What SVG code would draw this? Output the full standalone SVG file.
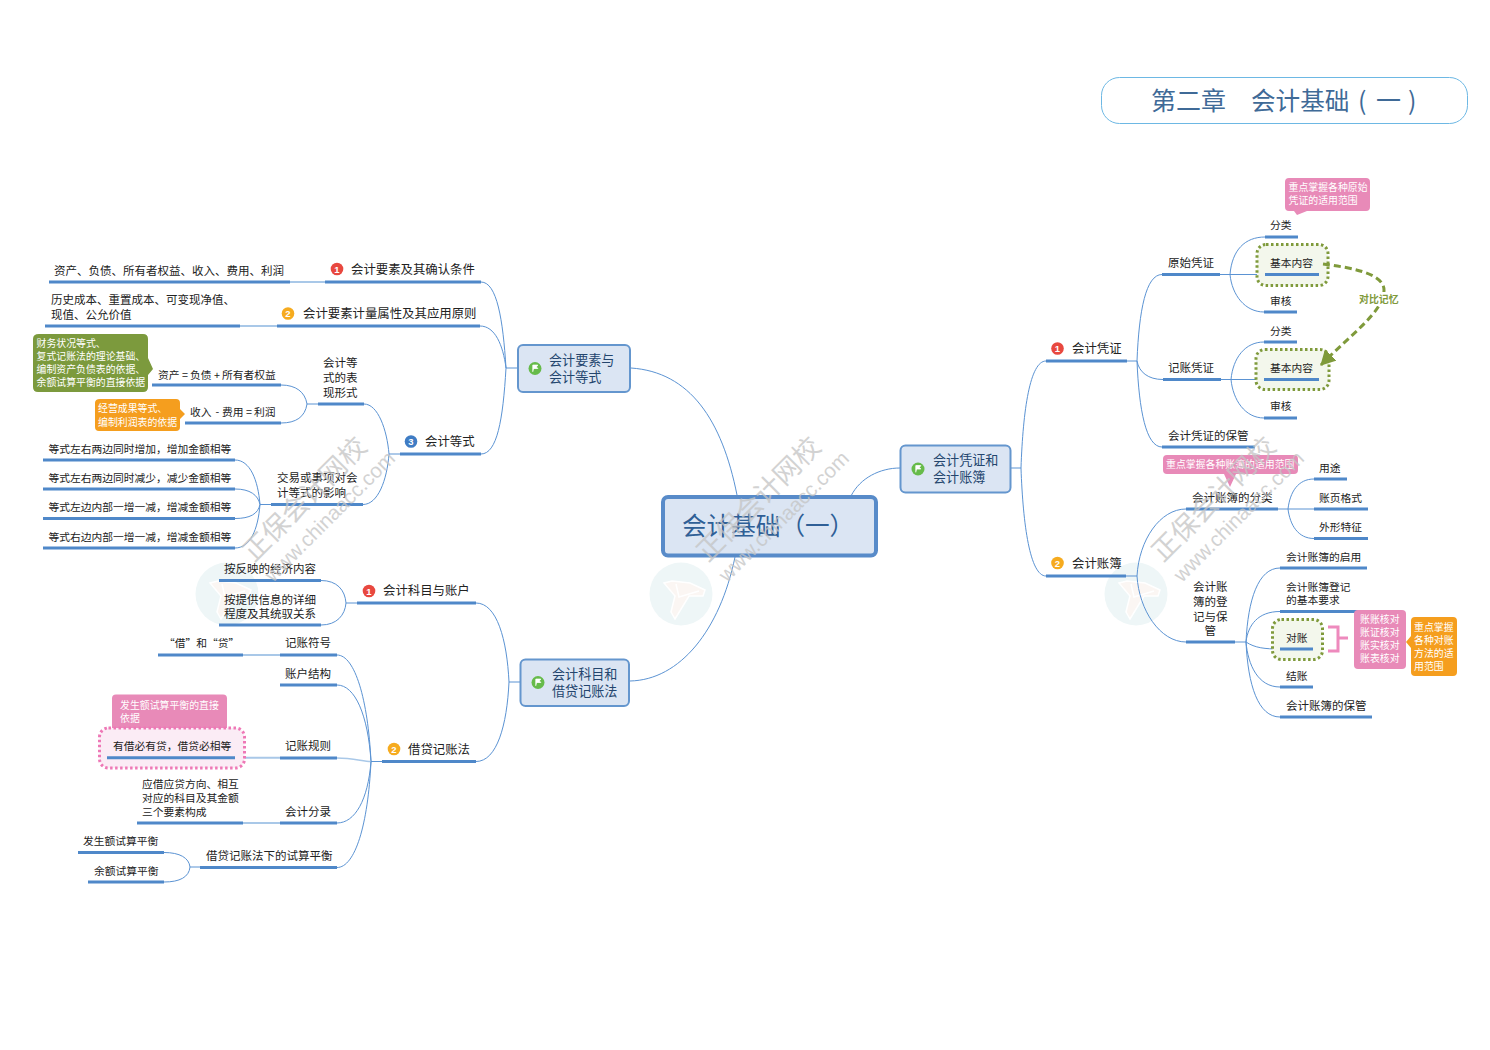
<svg xmlns="http://www.w3.org/2000/svg" width="1490" height="1050" viewBox="0 0 1490 1050">
<style>
text{font-family:"Noto Sans CJK SC","Noto Sans",sans-serif;fill:#222}
.t12{font-size:12.4px}.t11{font-size:11.5px}.t107{font-size:10.75px}.t10{font-size:9.9px}
.w{fill:#fff}
.u{stroke:#4f88c9;stroke-width:3;fill:none}
.l{stroke:#a9c8e8;stroke-width:2;fill:none}
.c{stroke:#5b93d3;stroke-width:1;fill:none}
.n{fill:#dbe5f3;stroke:#6496ce;stroke-width:2}
.nt{font-size:13.1px;fill:#24466e}
.dg{fill:#f3f7ec;stroke:#7f9a3b;stroke-width:3;stroke-dasharray:2.5 2.5}
.pk{fill:#e88ab8}
.og{fill:#f59e1e}
.r{fill:#e8483f}.y{fill:#f6ab1f}.b{fill:#3f7cc4}.g{fill:#66bb4a}
.num{font-family:"Liberation Sans",sans-serif;font-size:9.5px;font-weight:bold;fill:#fff;text-anchor:middle}
.wm{fill:#c4c4c4;opacity:.75}
</style>
<defs>
<marker id="ah" markerUnits="userSpaceOnUse" markerWidth="18" markerHeight="18" refX="14" refY="8" orient="auto"><path d="M0,0L15,8L0,16z" fill="#7f9a3b"/></marker>
<g id="flag"><circle r="6.5" class="g"/><path d="M-2.2,3.4V-3.4H2.8L1.4,-1.6L2.8,0H-1" fill="#fff" stroke="#fff" stroke-width=".8"/></g>
<g id="logo">
<circle cx="681" cy="594" r="31.5" fill="#eef6f7"/>
<path d="M664,583L672,581L690,583L705,590L703,596L689,596L675,619L671,612L675,596Z" fill="#fbf6f3" stroke="#fff" stroke-width="1.500"/>
<path d="M676,584L679,597L699,591" fill="none" stroke="#fff" stroke-width="1.500"/>
</g>
<g id="wm">
<text class="wm" x="708" y="563" transform="rotate(-45 708 563)" style="font-size:27px">正保会计网校</text>
<text class="wm" x="727" y="583" transform="rotate(-45 727 583)" style="font-family:'Liberation Sans',sans-serif;font-size:20.5px">www.chinaacc.com</text>
</g>
</defs>
<rect width="1490" height="1050" fill="#fff"/>
<g id="logos"><use href="#logo"/><use href="#logo" x="-454"/><use href="#logo" x="455"/></g>

<g id="connectors">
<path class="c" d="M631,368C690,372 722,420 737,495"/>
<path class="c" d="M630,681C680,680 720,630 735,557"/>
<path class="c" d="M851,496C860,478 880,468 900,468"/>
<path class="c" d="M506,368H517M509,682H520M1010,468H1021"/>
<path class="c" d="M481,282C497,282 503,320 506,368"/>
<path class="c" d="M480,326C495,326 503,345 506,368"/>
<path class="c" d="M481,454C497,454 503,420 506,368"/>
<path class="c" d="M389,454H400M307,404H318M260,504.5H271"/>
<path class="c" d="M364,404C378,404 387,430 389,454"/>
<path class="c" d="M363,504.5C378,504.5 387,480 389,454"/>
<path class="c" d="M281,385C296,385 305,392 307,404"/>
<path class="c" d="M281,423C296,423 305,417 307,404"/>
<path class="c" d="M235,460C250,460 258,480 260,504.5"/>
<path class="c" d="M235,489C250,489 258,495 260,504.5"/>
<path class="c" d="M235,518.5C250,518.5 258,514 260,504.5"/>
<path class="c" d="M235,548C250,548 258,530 260,504.5"/>
<path class="c" d="M476,603C497,603 507,640 509,682"/>
<path class="c" d="M476,761.5C497,761.5 507,725 509,682"/>
<path class="c" d="M321,580.5C337,580.5 345,590 346,603"/>
<path class="c" d="M321,625C337,625 345,615 346,603"/>
<path class="c" d="M346,603H357M371,761.5H382"/>
<path class="c" d="M337,655C355,655 368,700 371,761.5"/>
<path class="c" d="M337,685C355,685 368,715 371,761.5"/>
<path class="l" d="M337,758C352,758 362,761 371,761.5" style="stroke-width:1.500"/>
<path class="c" d="M337,823C355,823 368,800 371,761.5"/>
<path class="c" d="M337,867.5C355,867.5 368,825 371,761.5"/>
<path class="c" d="M164,852.5C180,852.5 189,858 190,867"/>
<path class="c" d="M164,882C180,882 189,877 190,867H200"/>
<path class="c" d="M1021,468C1023,410 1030,361 1046,361"/>
<path class="c" d="M1021,468C1023,525 1030,576 1046,576"/>
<path class="c" d="M1127,361H1137M1126,576H1137"/>
<path class="c" d="M1137,361C1139,310 1146,274.5 1162,274.5"/>
<path class="c" d="M1137,361C1139,372 1148,379.5 1163,379.5"/>
<path class="c" d="M1137,361C1139,410 1146,447 1162,447"/>
<path class="c" d="M1137,576C1139,540 1160,509 1186,509"/>
<path class="c" d="M1137,576C1139,610 1160,642 1186,642"/>
<path class="c" d="M1220,274.5H1265M1221,379.5H1264M1278,509H1314M1235,642H1246"/>
<path class="c" d="M1230,274.5C1232,250 1245,237 1265,237"/>
<path class="c" d="M1230,274.5C1232,295 1245,312 1264,312"/>
<path class="c" d="M1231,379.5C1233,358 1245,342 1264,342"/>
<path class="c" d="M1231,379.5C1233,400 1245,418 1264,418"/>
<path class="c" d="M1288,509C1290,492 1298,479 1314,479"/>
<path class="c" d="M1288,509C1290,525 1298,538.5 1314,538.5"/>
<path class="c" d="M1246,642C1248,600 1258,568 1280,568"/>
<path class="c" d="M1246,642C1248,625 1258,611.5 1280,611.5"/>
<path class="c" d="M1246,642C1255,648 1265,649 1280,649"/>
<path class="c" d="M1246,642C1248,665 1258,687 1280,687"/>
<path class="c" d="M1246,642C1248,685 1258,717 1280,717"/>
<path class="l" d="M290,282H325M240,326H277M243,655H280M235,757.7H280M243,823H280"/>
</g>

<g id="title"><rect x="1101.5" y="77.5" width="366" height="46" rx="18" fill="#fff" stroke="#6db8e4" stroke-width="1"/>
<text x="1151" y="110" style="font-size:25px;fill:#3f6a97">第二章</text>
<text x="1251" y="110" style="font-size:24.6px;fill:#3f6a97">会计基础</text>
<text x="1358" y="110" style="font-size:25px;fill:#3f6a97">(</text>
<text x="1376" y="110" style="font-size:25px;fill:#3f6a97">一</text>
<text x="1408" y="110" style="font-size:25px;fill:#3f6a97">)</text></g>

<g id="root"><rect x="663" y="497" width="213" height="58.5" rx="5" fill="#dbe5f3" stroke="#588bc9" stroke-width="4"/>
<text x="682" y="535" style="font-size:24.6px;fill:#2f5f96">会计基础（一）</text></g>

<g id="n-yaosu"><rect class="n" x="518" y="345" width="112" height="47" rx="5"/><use href="#flag" x="535" y="368.5"/>
<text class="nt" x="549" y="364.5">会计要素与</text><text class="nt" x="549" y="381.5">会计等式</text></g>
<g id="n-kemu"><rect class="n" x="520.5" y="659.5" width="108.5" height="46.5" rx="5"/><use href="#flag" x="538" y="682.5"/>
<text class="nt" x="552" y="679">会计科目和</text><text class="nt" x="552" y="696">借贷记账法</text></g>
<g id="n-pingzheng"><rect class="n" x="900.5" y="445.5" width="110" height="47" rx="5"/><use href="#flag" x="918" y="469"/>
<text class="nt" x="933" y="465">会计凭证和</text><text class="nt" x="933" y="482">会计账簿</text></g>

<g id="a1"><path class="u" d="M325,282H481"/><circle cx="337" cy="269" r="6.300" class="r"/><text class="num" x="337" y="272.500">1</text><text class="t12" x="351" y="274">会计要素及其确认条件</text></g>
<g id="a1-1"><path class="u" d="M49,282H290"/><text class="t11" x="54" y="275">资产、负债、所有者权益、收入、费用、利润</text></g>
<g id="a2"><path class="u" d="M277,326H480"/><circle cx="288" cy="313.500" r="6.300" class="y"/><text class="num" x="288" y="317">2</text><text class="t12" x="303" y="318">会计要素计量属性及其应用原则</text></g>
<g id="a2-1"><path class="u" d="M45,326H240"/><text class="t11" x="51" y="304">历史成本、重置成本、可变现净值、</text><text class="t11" x="51" y="319">现值、公允价值</text></g>
<g id="a3"><path class="u" d="M400,454H481"/><circle cx="411" cy="441.500" r="6.300" class="b"/><text class="num" x="411" y="445">3</text><text class="t12" x="425" y="446">会计等式</text></g>
<g id="a3-1"><path class="u" d="M318,404H364"/><text class="t11" x="323" y="367">会计等</text><text class="t11" x="323" y="382">式的表</text><text class="t11" x="323" y="397">现形式</text></g>
<g id="a3-2"><path class="u" d="M271,504.500H363"/><text class="t11" x="277" y="482">交易或事项对会</text><text class="t11" x="277" y="497">计等式的影响</text></g>
<g id="a3-1-1"><path class="u" d="M152,385H281"/><text class="t107" y="378.500"><tspan x="158">资产</tspan><tspan x="182">=</tspan><tspan x="190">负债</tspan><tspan x="214">+</tspan><tspan x="222">所有者权益</tspan></text></g>
<g id="a3-1-2"><path class="u" d="M185,423H281"/><text class="t107" y="416"><tspan x="190">收入</tspan><tspan x="215.500">-</tspan><tspan x="222">费用</tspan><tspan x="246">=</tspan><tspan x="254">利润</tspan></text></g>
<g id="note-green"><path d="M39,334H143Q148,334 148,339V358L153,369L148,375V387Q148,392 143,392H38Q33,392 33,387V339Q33,334 39,334Z" fill="#7c9a3d"/>
<text class="t10 w" x="36.500" y="346.500">财务状况等式、</text><text class="t10 w" x="36.500" y="359.500">复式记账法的理论基础、</text><text class="t10 w" x="36.500" y="372.500">编制资产负债表的依据、</text><text class="t10 w" x="36.500" y="385.500">余额试算平衡的直接依据</text></g>
<g id="note-orange"><path d="M100,399H176Q180,399 180,403V409L185,414L180,419V427Q180,431 176,431H99Q95,431 95,427V403Q95,399 100,399Z" class="og"/>
<text class="t10 w" x="98" y="412">经营成果等式、</text><text class="t10 w" x="98" y="425.500">编制利润表的依据</text></g>
<g id="a3-2-1"><path class="u" d="M43,460H235"/><text class="t107" x="48.500" y="452.500">等式左右两边同时增加，增加金额相等</text></g>
<g id="a3-2-2"><path class="u" d="M43,489H235"/><text class="t107" x="48.500" y="481.500">等式左右两边同时减少，减少金额相等</text></g>
<g id="a3-2-3"><path class="u" d="M43,518.500H235"/><text class="t107" x="48.500" y="511">等式左边内部一增一减，增减金额相等</text></g>
<g id="a3-2-4"><path class="u" d="M43,548H235"/><text class="t107" x="48.500" y="540.500">等式右边内部一增一减，增减金额相等</text></g>

<g id="b1"><path class="u" d="M357,603H476"/><circle cx="369" cy="591" r="6.300" class="r"/><text class="num" x="369" y="594.500">1</text><text class="t12" x="383" y="595">会计科目与账户</text></g>
<g id="b1-1"><path class="u" d="M219,580.500H321"/><text class="t11" x="224" y="573">按反映的经济内容</text></g>
<g id="b1-2"><path class="u" d="M219,625H321"/><text class="t11" x="224" y="603.500">按提供信息的详细</text><text class="t11" x="224" y="618">程度及其统驭关系</text></g>
<g id="b2"><path class="u" d="M382,761.500H476"/><circle cx="394" cy="749" r="6.300" class="y"/><text class="num" x="394" y="752.500">2</text><text class="t12" x="408" y="753.500">借贷记账法</text></g>
<g id="b2-1"><path class="u" d="M280,655H337"/><text class="t11" x="285" y="647">记账符号</text></g>
<g id="b2-1-1"><path class="u" d="M158,655H243"/><text class="t107" x="164" y="647">“借”和“贷”</text></g>
<g id="b2-2"><path class="u" d="M280,685H337"/><text class="t11" x="285" y="678">账户结构</text></g>
<g id="b2-3-note"><path d="M116,694.500H223Q227,694.500 227,698.500V730H112V698.500Q112,694.500 116,694.500Z" class="pk"/>
<text class="t10 w" x="120" y="709">发生额试算平衡的直接</text><text class="t10 w" x="120" y="722">依据</text></g>
<g id="b2-3-1"><rect x="99.500" y="728" width="145" height="40" rx="9" fill="#fbecf5" stroke="#ee78b6" stroke-width="3" stroke-dasharray="2.500 2.500"/>
<path class="u" d="M107,757.700H235"/><text class="t107" x="113" y="749.500">有借必有贷，借贷必相等</text></g>
<g id="b2-3"><path class="u" d="M280,758H337"/><text class="t11" x="285" y="750">记账规则</text></g>
<g id="b2-4"><path class="u" d="M280,823H337"/><text class="t11" x="285" y="815.500">会计分录</text></g>
<g id="b2-4-1"><path class="u" d="M137,823H243"/><text class="t107" x="142" y="788">应借应贷方向、相互</text><text class="t107" x="142" y="801.500">对应的科目及其金额</text><text class="t107" x="142" y="815.500">三个要素构成</text></g>
<g id="b2-5"><path class="u" d="M200,867.500H337"/><text class="t11" x="206" y="860">借贷记账法下的试算平衡</text></g>
<g id="b2-5-1"><path class="u" d="M78,852.500H164"/><text class="t107" x="83" y="845">发生额试算平衡</text></g>
<g id="b2-5-2"><path class="u" d="M88,882H164"/><text class="t107" x="94" y="875">余额试算平衡</text></g>

<g id="c1"><path class="u" d="M1046,361H1127"/><circle cx="1057.500" cy="348.500" r="6.300" class="r"/><text class="num" x="1057.500" y="352">1</text><text class="t12" x="1072" y="353">会计凭证</text></g>
<g id="c1-1"><path class="u" d="M1162,274.500H1220"/><text class="t11" x="1168" y="267">原始凭证</text></g>
<g id="c1-2"><path class="u" d="M1163,379.500H1221"/><text class="t11" x="1168" y="372">记账凭证</text></g>
<g id="c1-3"><path class="u" d="M1162,447H1255"/><text class="t11" x="1168" y="440">会计凭证的保管</text></g>
<g id="c1-1-1"><path class="u" d="M1265,237H1298"/><text class="t107" x="1270" y="229">分类</text></g>
<g id="c1-1-2"><rect class="dg" x="1257" y="244.500" width="71" height="41" rx="9"/><path class="u" d="M1265,274.500H1319"/><text class="t107" x="1270" y="267">基本内容</text></g>
<g id="c1-1-3"><path class="u" d="M1264,312H1297"/><text class="t107" x="1270" y="305">审核</text></g>
<g id="c1-2-1"><path class="u" d="M1264,342H1297"/><text class="t107" x="1270" y="335">分类</text></g>
<g id="c1-2-2"><rect class="dg" x="1256" y="349.500" width="73" height="40" rx="9"/><path class="u" d="M1264,379.500H1319"/><text class="t107" x="1270" y="372">基本内容</text></g>
<g id="c1-2-3"><path class="u" d="M1264,418H1297"/><text class="t107" x="1270" y="410">审核</text></g>
<g id="note-pink1"><path d="M1289,178H1366Q1370,178 1370,182V207Q1370,211 1366,211H1307L1297,215L1294,211H1289Q1285,211 1285,207V182Q1285,178 1289,178Z" class="pk"/>
<text class="t10 w" x="1288.500" y="191">重点掌握各种原始</text><text class="t10 w" x="1288.500" y="204">凭证的适用范围</text></g>
<g id="rel"><path d="M1323,264C1345,267 1384,272 1384,290C1384,312 1350,335 1321,365" fill="none" stroke="#7f9a3b" stroke-width="3" stroke-dasharray="7 4" marker-end="url(#ah)"/>
<rect x="1358" y="292" width="41" height="14" fill="#fff"/>
<text x="1359" y="303" style="font-size:9.900px;font-weight:bold;fill:#7f9a3b">对比记忆</text></g>

<g id="c2"><path class="u" d="M1046,576H1126"/><circle cx="1057.500" cy="563" r="6.300" class="y"/><text class="num" x="1057.500" y="566.500">2</text><text class="t12" x="1072" y="567.500">会计账簿</text></g>
<g id="c2-1"><path class="u" d="M1186,509H1278"/><text class="t11" x="1192" y="502">会计账簿的分类</text></g>
<g id="note-pink2"><path d="M1167,455H1294Q1298,455 1298,459V470Q1298,474 1294,474H1236L1230,487L1224,474H1167Q1163,474 1163,470V459Q1163,455 1167,455Z" class="pk"/>
<text class="t10 w" x="1166" y="468">重点掌握各种账簿的适用范围</text></g>
<g id="c2-1-1"><path class="u" d="M1314,479H1347"/><text class="t107" x="1319" y="472">用途</text></g>
<g id="c2-1-2"><path class="u" d="M1314,509H1368"/><text class="t107" x="1319" y="502">账页格式</text></g>
<g id="c2-1-3"><path class="u" d="M1314,538.500H1368"/><text class="t107" x="1319" y="531">外形特征</text></g>
<g id="c2-2"><path class="u" d="M1186,642H1235"/><text class="t11" x="1193" y="591">会计账</text><text class="t11" x="1193" y="606">簿的登</text><text class="t11" x="1193" y="621">记与保</text><text class="t11" x="1204.500" y="635">管</text></g>
<g id="c2-2-1"><path class="u" d="M1280,568H1367"/><text class="t107" x="1286" y="561">会计账簿的启用</text></g>
<g id="c2-2-2"><path class="u" d="M1280,611.500H1358"/><text class="t107" x="1286" y="591">会计账簿登记</text><text class="t107" x="1286" y="604">的基本要求</text></g>
<g id="c2-2-3"><rect class="dg" x="1272.500" y="619.500" width="50" height="40" rx="9"/><path class="u" d="M1280,649H1313"/><text class="t107" x="1286" y="642">对账</text></g>
<g id="c2-2-4"><path class="u" d="M1280,687H1313"/><text class="t107" x="1286" y="680">结账</text></g>
<g id="c2-2-5"><path class="u" d="M1280,717H1372"/><text class="t11" x="1286" y="710">会计账簿的保管</text></g>
<g id="bracket"><path d="M1328,627H1338V651H1328M1338,638H1348" fill="none" stroke="#ee8abd" stroke-width="3"/></g>
<g id="note-pink3"><rect x="1354" y="610" width="52" height="59" rx="4" class="pk"/>
<text class="t10 w" x="1360" y="623">账账核对</text><text class="t10 w" x="1360" y="636">账证核对</text><text class="t10 w" x="1360" y="649">账实核对</text><text class="t10 w" x="1360" y="662">账表核对</text></g>
<g id="note-orange2"><path d="M1415,617H1453Q1457,617 1457,621V672Q1457,676 1453,676H1415Q1411,676 1411,672V648L1406,642L1411,636V621Q1411,617 1415,617Z" class="og"/>
<text class="t10 w" x="1414" y="631">重点掌握</text><text class="t10 w" x="1414" y="644">各种对账</text><text class="t10 w" x="1414" y="657">方法的适</text><text class="t10 w" x="1414" y="670">用范围</text></g>

<g id="watermarks"><use href="#wm"/><use href="#wm" x="-454"/><use href="#wm" x="455"/></g>
</svg>
